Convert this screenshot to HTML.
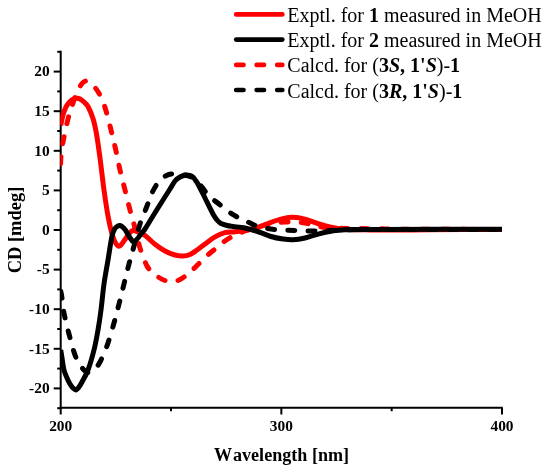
<!DOCTYPE html>
<html><head><meta charset="utf-8"><title>CD spectra</title>
<style>
html,body{margin:0;padding:0;background:#fff}
svg{display:block;will-change:transform}
text{font-family:"Liberation Serif","Times New Roman",serif;fill:#000;font-kerning:none}
</style></head><body>
<svg width="550" height="471" viewBox="0 0 550 471">
<rect width="550" height="471" fill="#fff"/>
<g stroke="#000" stroke-width="2" fill="none">
<line x1="60.7" y1="50.8" x2="60.7" y2="408.7"/>
<line x1="59.7" y1="407.7" x2="502.8" y2="407.7"/>
<line x1="53.7" y1="388.40" x2="60.7" y2="388.40"/><line x1="53.7" y1="348.80" x2="60.7" y2="348.80"/><line x1="53.7" y1="309.20" x2="60.7" y2="309.20"/><line x1="53.7" y1="269.60" x2="60.7" y2="269.60"/><line x1="53.7" y1="230.00" x2="60.7" y2="230.00"/><line x1="53.7" y1="190.40" x2="60.7" y2="190.40"/><line x1="53.7" y1="150.80" x2="60.7" y2="150.80"/><line x1="53.7" y1="111.20" x2="60.7" y2="111.20"/><line x1="53.7" y1="71.60" x2="60.7" y2="71.60"/><line x1="57.2" y1="408.20" x2="60.7" y2="408.20"/><line x1="57.2" y1="368.60" x2="60.7" y2="368.60"/><line x1="57.2" y1="329.00" x2="60.7" y2="329.00"/><line x1="57.2" y1="289.40" x2="60.7" y2="289.40"/><line x1="57.2" y1="249.80" x2="60.7" y2="249.80"/><line x1="57.2" y1="210.20" x2="60.7" y2="210.20"/><line x1="57.2" y1="170.60" x2="60.7" y2="170.60"/><line x1="57.2" y1="131.00" x2="60.7" y2="131.00"/><line x1="57.2" y1="91.40" x2="60.7" y2="91.40"/><line x1="57.2" y1="51.80" x2="60.7" y2="51.80"/><line x1="60.70" y1="407.7" x2="60.70" y2="414.5"/><line x1="281.35" y1="407.7" x2="281.35" y2="414.5"/><line x1="502.00" y1="407.7" x2="502.00" y2="414.5"/><line x1="171.03" y1="407.7" x2="171.03" y2="411.2"/><line x1="391.68" y1="407.7" x2="391.68" y2="411.2"/>
</g>
<clipPath id="pc"><rect x="60.2" y="40" width="442" height="380"/></clipPath>
<g fill="none" stroke-width="5.0" stroke-linejoin="round" clip-path="url(#pc)">
<path d="M60.50 165.00C60.58 163.50 60.75 158.83 61.00 156.00C61.25 153.17 61.50 151.17 62.00 148.00C62.50 144.83 63.00 141.83 64.00 137.00C65.00 132.17 66.67 124.17 68.00 119.00C69.33 113.83 70.67 110.00 72.00 106.00C73.33 102.00 74.67 98.25 76.00 95.00C77.33 91.75 78.83 88.58 80.00 86.50C81.17 84.42 82.00 83.42 83.00 82.50C84.00 81.58 85.00 81.08 86.00 81.00C87.00 80.92 87.83 81.33 89.00 82.00C90.17 82.67 91.42 83.25 93.00 85.00C94.58 86.75 96.83 89.67 98.50 92.50C100.17 95.33 101.67 98.67 103.00 102.00C104.33 105.33 105.08 107.50 106.50 112.50C107.92 117.50 109.92 125.58 111.50 132.00C113.08 138.42 114.58 144.67 116.00 151.00C117.42 157.33 118.50 163.50 120.00 170.00C121.50 176.50 123.33 183.33 125.00 190.00C126.67 196.67 128.33 203.67 130.00 210.00C131.67 216.33 133.33 221.67 135.00 228.00C136.67 234.33 138.00 241.67 140.00 248.00C142.00 254.33 144.83 261.83 147.00 266.00C149.17 270.17 151.00 271.08 153.00 273.00C155.00 274.92 157.00 276.25 159.00 277.50C161.00 278.75 163.00 279.82 165.00 280.50C167.00 281.18 169.00 281.55 171.00 281.60C173.00 281.65 175.17 281.35 177.00 280.80C178.83 280.25 180.33 279.30 182.00 278.30C183.67 277.30 184.83 276.60 187.00 274.80C189.17 273.00 192.00 270.38 195.00 267.50C198.00 264.62 202.33 260.05 205.00 257.50C207.67 254.95 208.83 253.98 211.00 252.20C213.17 250.42 215.67 248.67 218.00 246.80C220.33 244.93 222.17 242.97 225.00 241.00C227.83 239.03 231.67 236.67 235.00 235.00C238.33 233.33 241.67 232.17 245.00 231.00C248.33 229.83 251.67 229.00 255.00 228.00C258.33 227.00 261.67 225.83 265.00 225.00C268.33 224.17 271.67 223.50 275.00 223.00C278.33 222.50 281.67 222.17 285.00 222.00C288.33 221.83 291.67 221.83 295.00 222.00C298.33 222.17 301.67 222.42 305.00 223.00C308.33 223.58 311.67 224.75 315.00 225.50C318.33 226.25 320.83 227.03 325.00 227.50C329.17 227.97 334.17 228.13 340.00 228.30C345.83 228.47 352.50 228.40 360.00 228.50C367.50 228.60 375.00 228.77 385.00 228.90C395.00 229.03 400.50 229.22 420.00 229.30C439.50 229.38 488.33 229.38 502.00 229.40" stroke="#ff0000" stroke-dasharray="7 13.2" stroke-dashoffset="-1.3" stroke-linecap="round"/>
<path d="M60.70 125.50C61.08 123.75 62.12 118.08 63.00 115.00C63.88 111.92 64.83 109.25 66.00 107.00C67.17 104.75 68.67 102.87 70.00 101.50C71.33 100.13 72.83 99.35 74.00 98.80C75.17 98.25 76.00 98.17 77.00 98.20C78.00 98.23 78.83 98.37 80.00 99.00C81.17 99.63 82.67 100.75 84.00 102.00C85.33 103.25 86.50 103.75 88.00 106.50C89.50 109.25 91.58 113.92 93.00 118.50C94.42 123.08 95.33 127.42 96.50 134.00C97.67 140.58 98.75 148.67 100.00 158.00C101.25 167.33 102.67 180.33 104.00 190.00C105.33 199.67 106.67 208.67 108.00 216.00C109.33 223.33 110.83 229.67 112.00 234.00C113.17 238.33 114.00 240.00 115.00 242.00C116.00 244.00 117.00 245.50 118.00 246.00C119.00 246.50 119.67 246.33 121.00 245.00C122.33 243.67 124.50 240.08 126.00 238.00C127.50 235.92 128.83 233.75 130.00 232.50C131.17 231.25 131.83 230.67 133.00 230.50C134.17 230.33 135.00 230.67 137.00 231.50C139.00 232.33 142.00 233.37 145.00 235.50C148.00 237.63 151.67 241.72 155.00 244.30C158.33 246.88 161.67 249.22 165.00 251.00C168.33 252.78 172.00 254.17 175.00 255.00C178.00 255.83 180.50 256.08 183.00 256.00C185.50 255.92 187.67 255.50 190.00 254.50C192.33 253.50 194.50 251.75 197.00 250.00C199.50 248.25 202.00 246.20 205.00 244.00C208.00 241.80 211.67 238.70 215.00 236.80C218.33 234.90 221.67 233.43 225.00 232.60C228.33 231.77 231.33 232.23 235.00 231.80C238.67 231.37 243.00 230.80 247.00 230.00C251.00 229.20 255.00 228.28 259.00 227.00C263.00 225.72 267.00 223.70 271.00 222.30C275.00 220.90 279.33 219.43 283.00 218.60C286.67 217.77 289.33 217.20 293.00 217.30C296.67 217.40 300.67 218.08 305.00 219.20C309.33 220.32 314.67 222.67 319.00 224.00C323.33 225.33 326.67 226.32 331.00 227.20C335.33 228.08 338.50 228.85 345.00 229.30C351.50 229.75 360.83 229.77 370.00 229.90C379.17 230.03 390.00 230.13 400.00 230.10C410.00 230.07 413.00 229.82 430.00 229.70C447.00 229.58 490.00 229.45 502.00 229.40" stroke="#ff0000"/>
<path d="M60.70 350.00C60.92 351.33 61.45 354.67 62.00 358.00C62.55 361.33 63.17 366.67 64.00 370.00C64.83 373.33 66.00 375.67 67.00 378.00C68.00 380.33 69.00 382.33 70.00 384.00C71.00 385.67 72.00 387.00 73.00 388.00C74.00 389.00 75.00 390.17 76.00 390.00C77.00 389.83 78.00 388.33 79.00 387.00C80.00 385.67 80.50 384.83 82.00 382.00C83.50 379.17 86.00 375.33 88.00 370.00C90.00 364.67 92.33 356.67 94.00 350.00C95.67 343.33 96.83 336.67 98.00 330.00C99.17 323.33 100.00 317.67 101.00 310.00C102.00 302.33 102.83 292.33 104.00 284.00C105.17 275.67 106.67 268.00 108.00 260.00C109.33 252.00 110.83 241.25 112.00 236.00C113.17 230.75 114.00 230.17 115.00 228.50C116.00 226.83 117.17 226.48 118.00 226.00C118.83 225.52 119.33 225.52 120.00 225.60C120.67 225.68 121.17 225.85 122.00 226.50C122.83 227.15 124.00 228.17 125.00 229.50C126.00 230.83 127.08 233.00 128.00 234.50C128.92 236.00 129.67 237.33 130.50 238.50C131.33 239.67 132.25 241.08 133.00 241.50C133.75 241.92 134.17 241.58 135.00 241.00C135.83 240.42 137.00 239.17 138.00 238.00C139.00 236.83 139.83 235.50 141.00 234.00C142.17 232.50 143.00 232.00 145.00 229.00C147.00 226.00 150.00 220.83 153.00 216.00C156.00 211.17 160.17 204.50 163.00 200.00C165.83 195.50 168.00 192.17 170.00 189.00C172.00 185.83 173.33 183.00 175.00 181.00C176.67 179.00 178.17 178.00 180.00 177.00C181.83 176.00 184.33 175.25 186.00 175.00C187.67 174.75 188.83 175.17 190.00 175.50C191.17 175.83 192.00 176.08 193.00 177.00C194.00 177.92 195.00 179.50 196.00 181.00C197.00 182.50 197.50 183.17 199.00 186.00C200.50 188.83 202.67 193.33 205.00 198.00C207.33 202.67 211.00 210.33 213.00 214.00C215.00 217.67 215.67 218.42 217.00 220.00C218.33 221.58 219.33 222.58 221.00 223.50C222.67 224.42 225.00 225.00 227.00 225.50C229.00 226.00 230.00 226.08 233.00 226.50C236.00 226.92 240.67 227.08 245.00 228.00C249.33 228.92 254.67 230.58 259.00 232.00C263.33 233.42 267.00 235.33 271.00 236.50C275.00 237.67 279.33 238.45 283.00 239.00C286.67 239.55 289.33 239.97 293.00 239.80C296.67 239.63 300.67 239.00 305.00 238.00C309.33 237.00 314.67 234.93 319.00 233.80C323.33 232.67 326.67 231.88 331.00 231.20C335.33 230.52 336.83 230.00 345.00 229.70C353.17 229.40 353.83 229.47 380.00 229.40C406.17 229.33 481.67 229.32 502.00 229.30" stroke="#000"/>
<path d="M60.70 291.00C60.92 292.17 61.45 294.33 62.00 298.00C62.55 301.67 62.83 307.00 64.00 313.00C65.17 319.00 67.17 327.00 69.00 334.00C70.83 341.00 73.17 349.83 75.00 355.00C76.83 360.17 78.33 362.33 80.00 365.00C81.67 367.67 83.67 369.75 85.00 371.00C86.33 372.25 86.83 372.50 88.00 372.50C89.17 372.50 90.67 371.75 92.00 371.00C93.33 370.25 94.67 369.50 96.00 368.00C97.33 366.50 98.67 364.50 100.00 362.00C101.33 359.50 102.67 356.17 104.00 353.00C105.33 349.83 106.33 348.00 108.00 343.00C109.67 338.00 112.17 329.50 114.00 323.00C115.83 316.50 117.33 310.50 119.00 304.00C120.67 297.50 122.33 290.67 124.00 284.00C125.67 277.33 127.33 270.33 129.00 264.00C130.67 257.67 132.17 252.67 134.00 246.00C135.83 239.33 137.83 230.67 140.00 224.00C142.17 217.33 145.17 210.83 147.00 206.00C148.83 201.17 149.33 198.67 151.00 195.00C152.67 191.33 155.17 186.75 157.00 184.00C158.83 181.25 160.33 179.97 162.00 178.50C163.67 177.03 165.50 175.95 167.00 175.20C168.50 174.45 169.50 174.23 171.00 174.00C172.50 173.77 174.33 173.70 176.00 173.80C177.67 173.90 179.17 174.32 181.00 174.60C182.83 174.88 185.00 174.93 187.00 175.50C189.00 176.07 190.67 176.25 193.00 178.00C195.33 179.75 198.33 183.00 201.00 186.00C203.67 189.00 206.00 193.00 209.00 196.00C212.00 199.00 215.67 201.33 219.00 204.00C222.33 206.67 225.67 209.67 229.00 212.00C232.33 214.33 235.67 216.25 239.00 218.00C242.33 219.75 245.67 221.03 249.00 222.50C252.33 223.97 254.67 225.63 259.00 226.80C263.33 227.97 269.00 228.88 275.00 229.50C281.00 230.12 288.33 230.25 295.00 230.50C301.67 230.75 308.33 231.05 315.00 231.00C321.67 230.95 327.50 230.43 335.00 230.20C342.50 229.97 332.17 229.73 360.00 229.60C387.83 229.47 478.33 229.43 502.00 229.40" stroke="#000" stroke-dasharray="7 13.2" stroke-dashoffset="-0.3" stroke-linecap="round"/>
</g>
<g font-size="15.4px" font-weight="bold"><text x="49.6" y="393.20" text-anchor="end">-20</text><text x="49.6" y="353.60" text-anchor="end">-15</text><text x="49.6" y="314.00" text-anchor="end">-10</text><text x="49.6" y="274.40" text-anchor="end">-5</text><text x="49.6" y="234.80" text-anchor="end">0</text><text x="49.6" y="195.20" text-anchor="end">5</text><text x="49.6" y="155.60" text-anchor="end">10</text><text x="49.6" y="116.00" text-anchor="end">15</text><text x="49.6" y="76.40" text-anchor="end">20</text><text x="60.70" y="431.3" text-anchor="middle">200</text><text x="281.35" y="431.3" text-anchor="middle">300</text><text x="502.00" y="431.3" text-anchor="middle">400</text></g>
<text x="281.5" y="460.8" font-size="18.1px" font-weight="bold" text-anchor="middle">W<tspan dx="1.0">a</tspan>velength [nm]</text>
<text transform="translate(20.8 230) rotate(-90)" font-size="18.45px" font-weight="bold" text-anchor="middle">CD [mdeg]</text>
<g fill="none" stroke-width="4.7" stroke-linecap="round">
<line x1="236.2" y1="14.4" x2="282.3" y2="14.4" stroke="#ff0000"/>
<line x1="236.2" y1="39.6" x2="282.3" y2="39.6" stroke="#000"/>
<line x1="236.2" y1="64.9" x2="282.3" y2="64.9" stroke="#ff0000" stroke-dasharray="7.3 13.2"/>
<line x1="236.2" y1="90.0" x2="282.3" y2="90.0" stroke="#000" stroke-dasharray="7.3 13.2"/>
</g>
<g font-size="20px">
<text x="287.3" y="21.8">Exptl. for <tspan font-weight="bold">1</tspan> measured in MeOH</text>
<text x="287.3" y="47.0">Exptl. for <tspan font-weight="bold">2</tspan> measured in MeOH</text>
<text x="287.3" y="72.3">Calcd. for (<tspan font-weight="bold">3<tspan font-style="italic">S</tspan>, 1'<tspan font-style="italic">S</tspan></tspan>)-<tspan font-weight="bold">1</tspan></text>
<text x="287.3" y="97.5">Calcd. for (<tspan font-weight="bold">3<tspan font-style="italic">R</tspan>, 1'<tspan font-style="italic">S</tspan></tspan>)-<tspan font-weight="bold">1</tspan></text>
</g>
</svg>
</body></html>
